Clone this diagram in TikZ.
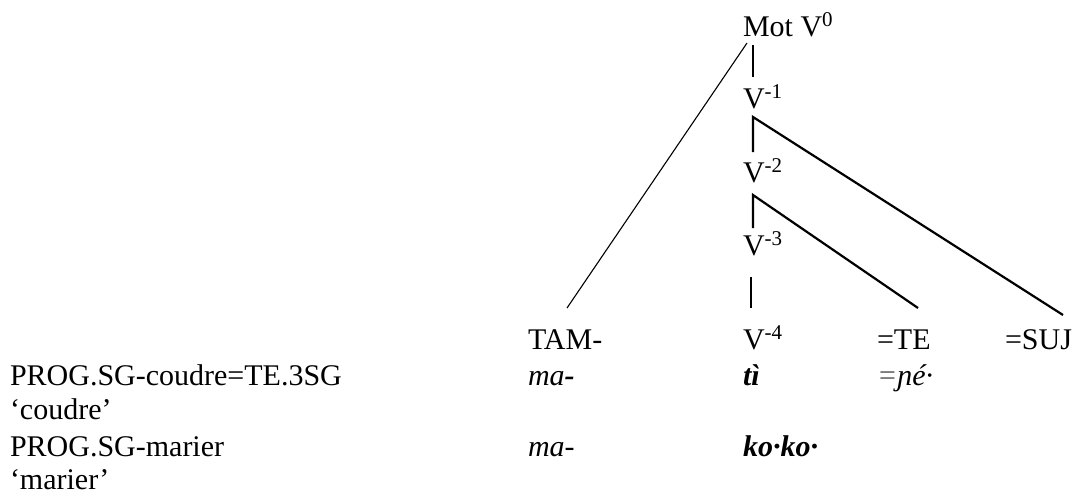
\documentclass[tikz,border=0pt]{standalone}
\usepackage{fontspec}
\setmainfont{Liberation Serif}
\begin{document}
\begin{tikzpicture}[x=1pt,y=-1pt,
  lbl/.style={anchor=base west, inner sep=0pt, outer sep=0pt, font=\fontsize{30}{36}\selectfont},
  branch/.style={line width=2.2pt, line cap=butt},
  thinline/.style={line width=1.1pt}]
\useasboundingbox (0,0) rectangle (1078,501);
% tree labels
\node[lbl] (mot) at (743,36) {Mot V\textsuperscript{0}};
\node[lbl] (v1) at (743,108) {V\textsuperscript{-1}};
\node[lbl] (v2) at (743,182) {V\textsuperscript{-2}};
\node[lbl] (v3) at (743,255) {V\textsuperscript{-3}};
\node[lbl] (tam) at (528,349) {TAM-};
\node[lbl] (v4) at (743,349) {V\textsuperscript{-4}};
\node[lbl] (te) at (877,349) {=TE};
\node[lbl] (suj) at (1005,349) {=SUJ};
% example rows
\node[lbl] (g1) at (10,385) {PROG.SG-coudre=TE.3SG};
\node[lbl] (m1) at (528,385) {\textit{ma}\textbf{\textit{-}}};
\node[lbl] (r1) at (743,385) {\textbf{\textit{tì}}};
\node[lbl] (c1) at (877,385) {\textit{\textcolor{black!65}{=}ɲé·}};
\node[lbl] (t1) at (10,419) {‘coudre’};
\node[lbl] (g2) at (10,456) {PROG.SG-marier};
\node[lbl] (m2) at (528,456) {\textit{ma-}};
\node[lbl] (r2) at (743,456) {\textbf{\textit{ko·ko·}}};
\node[lbl] (t2) at (10,489) {‘marier’};
% connector end points
\coordinate (motA) at (753,45);
\coordinate (v1T) at (753,77);
\coordinate (motL) at (747,43);
\coordinate (tamT) at (567,308);
\coordinate (v1B) at (753,117);
\coordinate (v2T) at (753,152);
\coordinate (sujT) at (1063,315);
\coordinate (v2B) at (753,195);
\coordinate (v3T) at (753,228);
\coordinate (teT) at (918,308);
\coordinate (v3B) at (751,277);
\coordinate (v4T) at (751,308);
% connectors
\draw[branch] (motA) -- (v1T);
\draw[thinline] (motL) -- (tamT);
\draw[branch] (v2T) -- (v1B) -- (sujT);
\draw[branch] (v3T) -- (v2B) -- (teT);
\draw[branch] (v3B) -- (v4T);
\end{tikzpicture}
\end{document}
